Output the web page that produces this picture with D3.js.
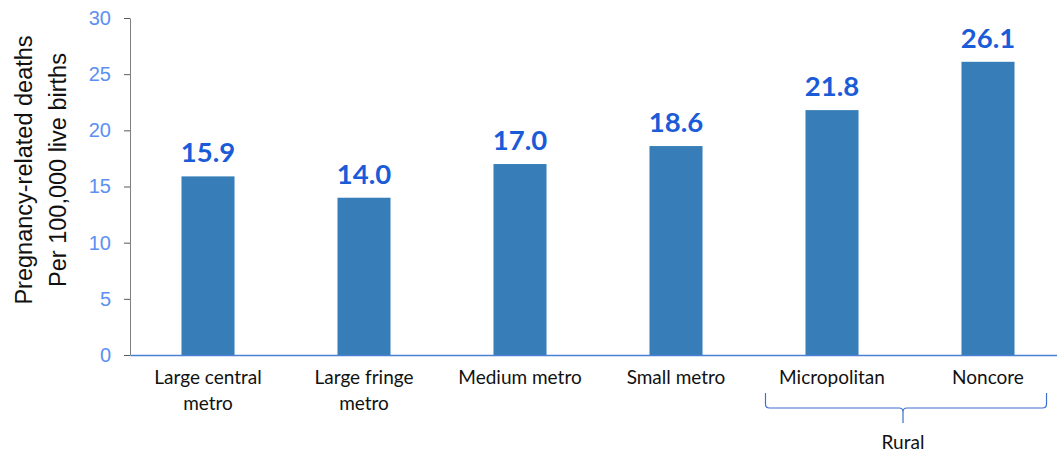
<!DOCTYPE html>
<html>
<head>
<meta charset="utf-8">
<script src="https://cdn.jsdelivr.net/npm/d3@7"></script>
<style>
  body { margin: 0; background: #fff; }
  svg { display: block; }
</style>
</head>
<body>
<svg id="chart"></svg>
<script>
// chart data
const categories = ["Large central|metro", "Large fringe|metro", "Medium metro", "Small metro", "Micropolitan", "Noncore"];
const rates = [15.9, 14.0, 17.0, 18.6, 21.8, 26.1];
const yTicks = [0, 5, 10, 15, 20, 25, 30];
const groupLabel = "Rural";
const groupMembers = ["Micropolitan", "Noncore"];

const width = 1057, height = 454;
const margin = {top: 18, right: -9, bottom: 99, left: 130};

const svg = d3.select("#chart")
    .attr("width", width)
    .attr("height", height);

const x = d3.scaleBand()
    .domain(categories)
    .range([margin.left, width - margin.right])
    .paddingInner(0.66)
    .paddingOuter(0.33);

const y = d3.scaleLinear()
    .domain([0, 30])
    .range([height - margin.bottom, margin.top]);

// bars
svg.selectAll(".bar")
    .data(rates)
    .enter()
  .append("rect")
    .attr("class", "bar")
    .attr("x", (d, i) => x(categories[i]))
    .attr("y", d => y(d))
    .attr("width", x.bandwidth())
    .attr("height", d => y(0) - y(d))
    .attr("fill", "#377eb8");

// value labels
svg.selectAll(".val")
    .data(rates)
    .enter()
  .append("text")
    .attr("class", "val")
    .attr("x", (d, i) => x(categories[i]) + x.bandwidth() / 2)
    .attr("y", d => y(d) - 14)
    .attr("text-anchor", "middle")
    .attr("font-family", "Lato, 'Open Sans', sans-serif")
    .attr("font-weight", "bold")
    .attr("font-size", 27.5)
    .attr("fill", "#1a5bd8")
    .text(d => d.toFixed(1));

// y axis
const yAxisG = svg.append("g")
    .attr("transform", `translate(${margin.left},0)`)
    .call(d3.axisLeft(y).tickValues(yTicks).tickSize(6).tickPadding(13).tickSizeOuter(0));
yAxisG.select(".domain").attr("stroke", "#7f7f7f");
yAxisG.selectAll(".tick line").attr("stroke", "#595959");
yAxisG.selectAll(".tick text")
    .attr("font-family", "'Liberation Sans', Arial, sans-serif")
    .attr("font-size", 20)
    .attr("fill", "#5b8ff2");

// x axis
const xAxisG = svg.append("g")
    .attr("transform", `translate(0,${y(0)})`)
    .call(d3.axisBottom(x).tickSize(0).tickSizeOuter(0).tickFormat(""));
xAxisG.select(".domain").attr("stroke", "#4a7fd6").attr("stroke-width", 1.5);

// category labels (may wrap onto two lines)
categories.forEach(c => {
  const lines = c.split("|");
  const t = svg.append("text")
      .attr("x", x(c) + x.bandwidth() / 2)
      .attr("y", y(0) + 29)
      .attr("text-anchor", "middle")
      .attr("font-family", "Lato, 'Open Sans', sans-serif")
      .attr("font-size", 19)
      .attr("fill", "#111");
  lines.forEach((l, k) => {
    t.append("tspan")
      .attr("x", x(c) + x.bandwidth() / 2)
      .attr("dy", k === 0 ? 0 : 26)
      .text(l);
  });
});

// rural bracket
const bx0 = x(groupMembers[0]) - 40;
const bx1 = x(groupMembers[1]) + x.bandwidth() + 32;
const bmid = (bx0 + bx1) / 2 - 3;
const bTop = y(0) + 38, bBar = y(0) + 53, bTip = y(0) + 68;
const r = 4;
svg.append("path")
    .attr("d", `M${bx0},${bTop} L${bx0},${bBar - r} Q${bx0},${bBar} ${bx0 + r},${bBar}
                L${bmid - r},${bBar} Q${bmid},${bBar} ${bmid},${bBar + r} L${bmid},${bTip}
                M${bmid},${bBar + r} Q${bmid},${bBar} ${bmid + r},${bBar}
                L${bx1 - r},${bBar} Q${bx1},${bBar} ${bx1},${bBar - r} L${bx1},${bTop}`)
    .attr("fill", "none")
    .attr("stroke", "#3d6fd0")
    .attr("stroke-width", 1.2);

svg.append("text")
    .attr("x", bmid)
    .attr("y", bTip + 26)
    .attr("text-anchor", "middle")
    .attr("font-family", "Lato, 'Open Sans', sans-serif")
    .attr("font-size", 19)
    .attr("fill", "#111")
    .text(groupLabel);

// y axis title
const titleG = svg.append("text")
    .attr("transform", `translate(0,170) rotate(-90)`)
    .attr("text-anchor", "middle")
    .attr("font-family", "'Liberation Sans', Arial, sans-serif")
    .attr("font-size", 23.5)
    .attr("fill", "#111");
titleG.append("tspan").attr("x", 0).attr("y", 32).text("Pregnancy-related deaths");
titleG.append("tspan").attr("x", 0).attr("y", 66).text("Per 100,000 live births");
</script>
</body>
</html>
